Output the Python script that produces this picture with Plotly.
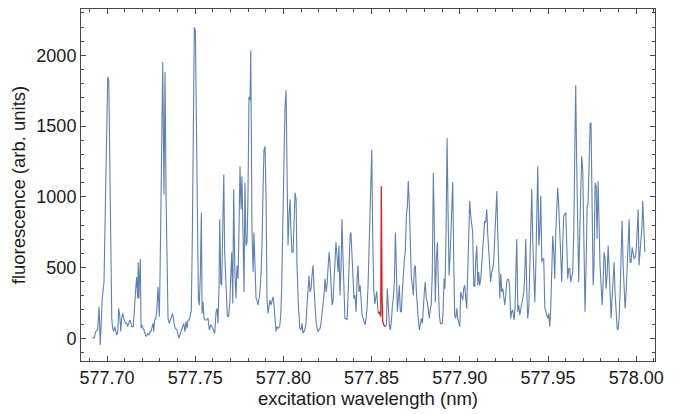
import plotly.graph_objects as go

# ---- data (wavelength in nm, fluorescence in arb. units) ----
wl_left = [
577.6917,577.6928,577.6936,577.6947,577.6955,577.6959,577.6962,577.6966,577.6973,577.6983,
577.6993,577.6998,577.7004,577.7010,577.7015,577.7021,577.7027,577.7032,577.7038,577.7044,
577.7049,577.7055,577.7061,577.7066,577.7072,577.7078,577.7083,577.7089,577.7095,577.7100,
577.7106,577.7112,577.7117,577.7123,577.7129,577.7134,577.7140,577.7149,577.7155,577.7163,
577.7168,577.7174,577.7177,577.7181,577.7185,577.7189,577.7193,577.7198,577.7204,577.7210,
577.7215,577.7221,577.7227,577.7232,577.7238,577.7244,577.7249,577.7255,577.7261,577.7265,
577.7270,577.7276,577.7282,577.7289,577.7297,577.7304,577.7312,577.7316,577.7323,577.7329,
577.7335,577.7340,577.7346,577.7353,577.7363,577.7372,577.7380,577.7387,577.7397,577.7407,
577.7416,577.7425,577.7435,577.7442,577.7448,577.7454,577.7459,577.7467,577.7472,577.7478,
577.7484,577.7489,577.7495,577.7501,577.7506,577.7512,577.7518,577.7523,577.7529,577.7535,
577.7539,577.7544,577.7550,577.7557,577.7565,577.7573,577.7580,577.7588,577.7595,577.7603,
577.7611,577.7618,577.7624,577.7629,577.7635,577.7639,577.7645,577.7650,577.7656,577.7662,
577.7667,577.7675,577.7682,577.7689,577.7696,577.7701,577.7707,577.7713,577.7718,577.7724,
577.7731,577.7737,577.7743,577.7748,577.7754,577.7760,577.7765,577.7771,577.7777,577.7782,
577.7788,577.7794,577.7799,577.7805,577.7811,577.7815,577.7818,577.7822,577.7828,577.7833,
577.7839,577.7845,577.7850,577.7856,577.7862,577.7867,577.7873,577.7879,577.7885,577.7890,
577.7896,577.7902,577.7907,577.7913,577.7919,577.7924,577.7930,577.7936,577.7941,577.7947,
577.7953,577.7958,577.7964,577.7971,577.7979,577.7985,577.7990,577.7996,577.8002,577.8009,
577.8015,577.8021,577.8026,577.8032,577.8038,577.8043,577.8049,577.8055,577.8060,577.8066,
577.8072,577.8077,577.8085,577.8093,577.8100,577.8106,577.8111,577.8117,577.8123,577.8128,
577.8134,577.8140,577.8145,577.8151,577.8157,577.8162,577.8168,577.8174,577.8179,577.8185,
577.8191,577.8196,577.8202,577.8208,577.8213,577.8219,577.8225,577.8230,577.8236,577.8242,
577.8247,577.8253,577.8259,577.8264,577.8270,577.8276,577.8281,577.8287,577.8293,577.8298,
577.8304,577.8310,577.8315,577.8321,577.8327,577.8332,577.8338,577.8344,577.8349,577.8355,
577.8361,577.8366,577.8372,577.8378,577.8383,577.8389,577.8395,577.8400,577.8406,577.8412,
577.8418,577.8423,577.8429,577.8435,577.8440,577.8446,577.8452,577.8457,577.8463,577.8469,
577.8474,577.8480,577.8486,577.8493,577.8501,577.8506,577.8512,577.8518,577.8523,577.8529,
577.8535,577.8538]
flu_left = [
0,5,47,58,222,47,-47,70,281,398,
1076,1170,1848,1824,1216,515,140,70,47,82,
58,23,47,211,164,47,140,175,140,129,
105,105,82,105,129,117,82,82,246,351,
433,281,538,281,444,561,70,94,70,58,
35,12,23,35,23,47,47,82,105,47,
129,140,187,363,152,748,1941,1953,1017,1883,
982,398,140,105,140,175,105,70,58,0,
35,70,105,47,117,70,129,129,175,199,
748,1684,2199,2175,1684,748,281,234,444,889,
175,257,140,129,129,140,58,94,82,58,
35,187,211,105,351,842,386,374,702,1158,
608,327,160,150,250,421,608,246,1053,515,
281,515,421,748,1216,912,1146,748,327,1099,
655,678,982,1707,1684,2035,1450,748,468,748,
515,281,269,234,281,327,444,678,1076,1333,
1357,982,281,175,234,269,234,281,292,234,
140,47,82,70,82,164,351,748,1216,1637,
1754,1170,655,865,982,748,608,608,748,1029,
982,515,234,70,58,105,35,47,70,105,
234,351,444,327,351,444,515,351,211,117,
70,47,58,70,105,164,234,304,421,327,
374,515,608,538,351,234,257,444,561,678,
585,468,655,304,515,842,561,281,140,140,
129,281,608,725,748,538,351,281,304,187,
421,515,327,374,281,164,140,117,94,140,
211,374,702,950,1333,748,351,240,280,330,
210,175]

red_wl = [577.8538,577.8544,577.8552,577.8555,577.8559,577.8563,577.8570,577.8578]
red_flu = [175,187,154,1075,300,119,93,82]

wl_right = [
577.8578,577.8584,577.8589,577.8595,577.8601,577.8606,577.8612,577.8618,577.8623,577.8629,
577.8635,577.8640,577.8646,577.8652,577.8657,577.8663,577.8669,577.8674,577.8680,577.8686,
577.8691,577.8697,577.8703,577.8708,577.8714,577.8720,577.8725,577.8731,577.8737,577.8742,
577.8748,577.8754,577.8759,577.8765,577.8771,577.8776,577.8782,577.8788,577.8793,577.8799,
577.8804,577.8810,577.8816,577.8821,577.8827,577.8833,577.8838,577.8844,577.8850,577.8856,
577.8861,577.8867,577.8873,577.8878,577.8884,577.8890,577.8895,577.8901,577.8905,577.8911,
577.8916,577.8922,577.8928,577.8933,577.8939,577.8945,577.8950,577.8956,577.8960,577.8966,
577.8971,577.8977,577.8983,577.8988,577.8994,577.9000,577.9005,577.9011,577.9017,577.9022,
577.9028,577.9034,577.9039,577.9045,577.9051,577.9056,577.9062,577.9068,577.9073,577.9079,
577.9085,577.9090,577.9096,577.9102,577.9107,577.9113,577.9119,577.9124,577.9130,577.9136,
577.9141,577.9147,577.9153,577.9158,577.9164,577.9170,577.9175,577.9181,577.9187,577.9192,
577.9198,577.9204,577.9210,577.9215,577.9221,577.9227,577.9232,577.9238,577.9244,577.9249,
577.9255,577.9261,577.9266,577.9272,577.9278,577.9283,577.9289,577.9294,577.9300,577.9308,
577.9313,577.9319,577.9323,577.9329,577.9334,577.9340,577.9346,577.9351,577.9357,577.9363,
577.9368,577.9374,577.9380,577.9385,577.9391,577.9397,577.9402,577.9408,577.9414,577.9419,
577.9425,577.9431,577.9436,577.9442,577.9448,577.9453,577.9459,577.9465,577.9470,577.9476,
577.9482,577.9487,577.9493,577.9499,577.9504,577.9510,577.9516,577.9521,577.9527,577.9533,
577.9538,577.9544,577.9550,577.9555,577.9561,577.9567,577.9572,577.9578,577.9584,577.9589,
577.9595,577.9601,577.9606,577.9612,577.9618,577.9623,577.9629,577.9635,577.9640,577.9646,
577.9652,577.9657,577.9663,577.9669,577.9674,577.9680,577.9686,577.9691,577.9697,577.9705,
577.9710,577.9716,577.9722,577.9727,577.9733,577.9739,577.9744,577.9750,577.9756,577.9761,
577.9767,577.9773,577.9778,577.9784,577.9790,577.9795,577.9801,577.9807,577.9812,577.9818,
577.9824,577.9829,577.9835,577.9841,577.9846,577.9852,577.9858,577.9863,577.9869,577.9875,
577.9880,577.9886,577.9892,577.9897,577.9903,577.9909,577.9914,577.9920,577.9926,577.9931,
577.9937,577.9943,577.9948,577.9954,577.9960,577.9965,577.9971,577.9977,577.9982,577.9988,
577.9994,577.9999,578.0005,578.0011,578.0016,578.0022,578.0028,578.0033,578.0037,578.0043,
578.0049]
flu_right = [
82,94,351,200,90,58,117,234,281,398,
748,515,187,281,374,187,187,327,468,561,
608,865,935,1111,935,631,444,374,304,491,
515,327,211,129,58,117,140,105,234,327,
398,281,257,187,140,211,234,468,1170,748,
257,561,678,398,164,105,100,105,187,421,
351,748,1415,935,444,585,795,982,1104,515,
164,140,211,140,117,82,327,304,269,351,
374,281,211,468,748,971,865,772,748,374,
363,538,655,374,468,374,421,515,608,748,
830,818,912,748,608,491,398,468,491,538,
748,935,1041,748,398,281,456,327,351,281,
234,304,398,421,409,351,140,187,200,129,
211,515,702,187,234,164,211,257,304,327,
444,702,327,140,211,515,748,1053,678,374,
257,515,865,1216,655,748,1006,538,561,561,
211,199,164,140,175,82,234,444,725,608,
421,748,982,1064,935,748,561,398,678,865,
877,889,678,421,491,496,398,444,468,748,
1216,1789,1216,748,398,748,1099,1286,1193,561,
187,515,935,947,1263,1520,1520,748,374,515,
1099,1076,702,1111,748,515,374,234,374,608,
561,351,444,655,515,351,140,281,468,538,
327,140,70,58,140,327,608,830,515,327,
211,327,515,748,842,538,538,643,596,561,
573,608,748,912,515,608,702,795,971,748,
608]

x_ticks = [577.70, 577.75, 577.80, 577.85, 577.90, 577.95, 578.00]
x_tick_text = ["577.70", "577.75", "577.80", "577.85", "577.90", "577.95", "578.00"]
y_ticks = [0, 500, 1000, 1500, 2000]
y_tick_text = ["0", "500", "1000", "1500", "2000"]

BLUE = "#5E81B5"
RED = "#E41A1C"
FRAME = "#4a4a4a"
FONT = "Liberation Sans, Arial, sans-serif"

fig = go.Figure()
fig.add_trace(go.Scatter(
    x=wl_left + [None] + wl_right,
    y=flu_left + [None] + flu_right,
    mode="lines", line=dict(color=BLUE, width=1.1),
    connectgaps=False, hoverinfo="skip", showlegend=False))
fig.add_trace(go.Scatter(
    x=red_wl, y=red_flu, mode="lines",
    line=dict(color=RED, width=1.3), hoverinfo="skip", showlegend=False))

axis_common = dict(
    showgrid=False, zeroline=False, showline=True, linecolor=FRAME, linewidth=1,
    mirror="ticks", ticks="inside", ticklen=5, tickwidth=1, tickcolor=FRAME,
    tickfont=dict(family=FONT, size=18, color="#1a1a1a"),
)

fig.update_xaxes(
    **axis_common,
    range=[577.68526, 578.01066],
    tickvals=x_ticks, ticktext=x_tick_text,
    minor=dict(tick0=577.70, dtick=0.01, ticks="inside", ticklen=3, tickcolor=FRAME, tickwidth=1),
    title=dict(text="excitation wavelength (nm)", font=dict(family=FONT, size=18.5, color="#1a1a1a"), standoff=5),
)
fig.update_yaxes(
    **axis_common,
    range=[-161, 2328],
    tickvals=y_ticks, ticktext=y_tick_text,
    minor=dict(tick0=0, dtick=100, ticks="inside", ticklen=3, tickcolor=FRAME, tickwidth=1),
    title=dict(text="fluorescence (arb. units)", font=dict(family=FONT, size=18.5, color="#1a1a1a"), standoff=5),
)

fig.update_layout(
    width=679, height=414,
    margin=dict(l=81, r=24, t=8, b=51),
    paper_bgcolor="white", plot_bgcolor="white",
)

fig.write_html("out.html")
